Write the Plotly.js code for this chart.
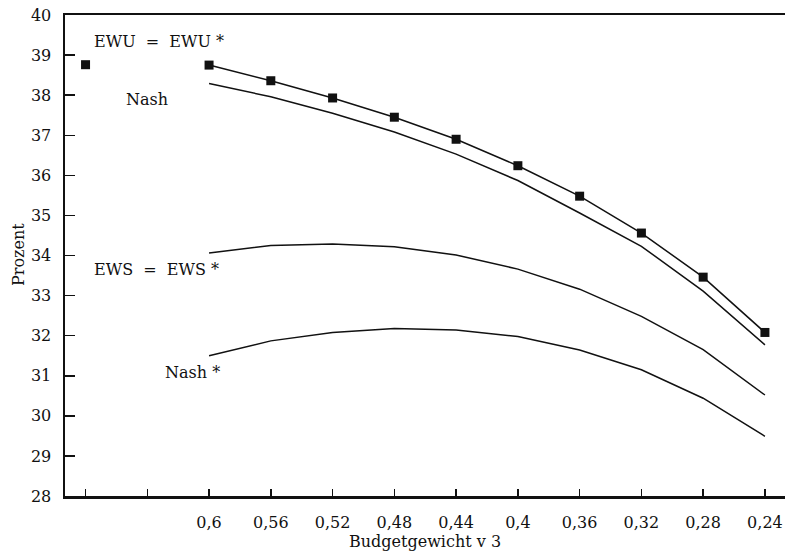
<!DOCTYPE html>
<html>
<head>
<meta charset="utf-8">
<script src="https://cdn.plot.ly/plotly-3.0.1.min.js"></script>
<style>html,body{margin:0;padding:0;background:#fff;}#chart{width:785px;height:552px;}</style>
</head>
<body>
<div id="chart"></div>
<script>
// Budget weight v3 (x axis runs from high to low)
const budgetWeight = [0.6, 0.56, 0.52, 0.48, 0.44, 0.4, 0.36, 0.32, 0.28, 0.24];
// EWU = EWU* (with square markers)
const ewuCoop = [38.75, 38.36, 37.93, 37.45, 36.90, 36.24, 35.48, 34.56, 33.46, 32.08];
// EWU Nash
const ewuNash = [38.29, 37.96, 37.55, 37.08, 36.53, 35.87, 35.06, 34.23, 33.11, 31.77];
// EWS = EWS*
const ewsCoop = [34.06, 34.25, 34.29, 34.22, 34.01, 33.66, 33.16, 32.48, 31.65, 30.52];
// Nash*
const ewsNash = [31.50, 31.87, 32.08, 32.18, 32.14, 31.98, 31.64, 31.15, 30.44, 29.49];
// key marker drawn in the upper left
const keyX = [0.68];
const keyY = [38.76];

const tickVals = [0.68, 0.64, 0.6, 0.56, 0.52, 0.48, 0.44, 0.4, 0.36, 0.32, 0.28, 0.24];
const tickText = ['', '', '0,6', '0,56', '0,52', '0,48', '0,44', '0,4', '0,36', '0,32', '0,28', '0,24'];
const yTicks = [28, 29, 30, 31, 32, 33, 34, 35, 36, 37, 38, 39, 40];

const font = 'DejaVu Serif';
const ink = '#111';
const lineStyle = {color: ink, width: 1.5};
const sq = {symbol: 'square', size: 9, color: ink};

const traces = [
  {x: budgetWeight, y: ewuCoop, mode: 'lines+markers', line: lineStyle, marker: sq, name: 'EWU = EWU*'},
  {x: budgetWeight, y: ewuNash, mode: 'lines', line: lineStyle, name: 'Nash'},
  {x: budgetWeight, y: ewsCoop, mode: 'lines', line: lineStyle, name: 'EWS = EWS*'},
  {x: budgetWeight, y: ewsNash, mode: 'lines', line: lineStyle, name: 'Nash*'},
  {x: keyX, y: keyY, mode: 'markers', marker: sq, name: 'key'}
];

const f16 = {family: font, size: 16, color: ink};
// plot area: x 65..785, y 15..496 (pixels)
const px = v => (v - 65) / 720;
const py = v => (496 - v) / 481;

const layout = {
  width: 785, height: 552,
  margin: {l: 65, r: 0, t: 15, b: 56},
  paper_bgcolor: '#fff', plot_bgcolor: '#fff',
  showlegend: false,
  font: f16,
  xaxis: {
    range: [0.6933, 0.227],
    tickmode: 'array', tickvals: tickVals, ticktext: tickText,
    ticks: 'inside', ticklen: 7, tickwidth: 1.5, tickcolor: ink,
    showline: true, linewidth: 2.5, linecolor: ink, mirror: true,
    showgrid: false, zeroline: false,
    ticklabelstandoff: 10,
    tickfont: f16
  },
  yaxis: {
    range: [28, 40],
    tickmode: 'array', tickvals: yTicks,
    ticks: 'inside', ticklen: 10, tickwidth: 1.5, tickcolor: ink,
    showline: true, linewidth: 2.5, linecolor: ink, mirror: false,
    showgrid: false, zeroline: false,
    ticklabelstandoff: 8,
    tickfont: f16
  },
  annotations: [
    {xref: 'paper', yref: 'paper', x: 0.5, y: py(541), xanchor: 'center', yanchor: 'middle',
     text: 'Budgetgewicht v 3', showarrow: false, font: f16},
    {xref: 'paper', yref: 'paper', x: px(18), y: py(255), xanchor: 'center', yanchor: 'middle', textangle: -90,
     text: 'Prozent', showarrow: false, font: f16},
    {xref: 'paper', yref: 'paper', x: px(92), y: py(42), xanchor: 'left', yanchor: 'middle',
     text: 'EWU  =  EWU *', showarrow: false, font: f16},
    {xref: 'paper', yref: 'paper', x: px(124), y: py(100), xanchor: 'left', yanchor: 'middle',
     text: 'Nash', showarrow: false, font: f16},
    {xref: 'paper', yref: 'paper', x: px(92), y: py(269), xanchor: 'left', yanchor: 'middle',
     text: 'EWS  =  EWS *', showarrow: false, font: f16},
    {xref: 'paper', yref: 'paper', x: px(163), y: py(373), xanchor: 'left', yanchor: 'middle',
     text: 'Nash *', showarrow: false, font: f16}
  ]
};

Plotly.newPlot('chart', traces, layout, {staticPlot: true, displayModeBar: false});
</script>
</body>
</html>
